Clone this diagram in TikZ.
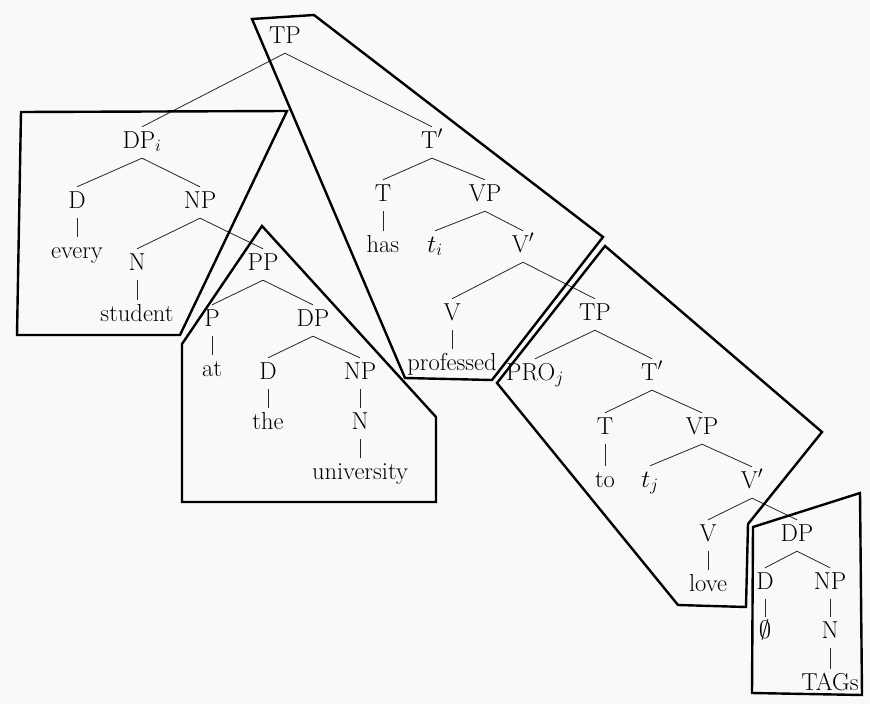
\documentclass[tikz,border=0pt]{standalone}
\definecolor{bg}{RGB}{249,249,249}
\begin{document}
\begin{tikzpicture}[x=1pt,y=-1pt,
  lab/.style={anchor=base,inner sep=0pt,text height=21pt,text depth=10pt,font=\fontsize{24.5}{29}\selectfont},
  edge/.style={line width=0.8pt,draw=black!85},
  box/.style={line width=2.4pt,line join=miter}]
\fill[bg] (0,0) rectangle (870,704);
\useasboundingbox (0,0) rectangle (870,704);
% nodes
\node[lab] (TP) at (285,43) {TP};
\node[lab] (DPi) at (142,148) {DP$_i$};
\node[lab] (Tb1) at (432,148) {T$'$};
\node[lab] (D1) at (77,208) {D};
\node[lab] (NP1) at (200,208) {NP};
\node[lab] (every) at (77,258) {every};
\node[lab] (N1) at (137,270) {N};
\node[lab] (PP) at (263,270) {PP};
\node[lab] (student) at (137,321) {student};
\node[lab] (P) at (212,326) {P};
\node[lab] (DP2) at (313,326) {DP};
\node[lab] (at) at (212,376) {at};
\node[lab] (D2) at (268,379) {D};
\node[lab] (NP2) at (360,379) {NP};
\node[lab] (the) at (268,429) {the};
\node[lab] (N2) at (360,429) {N};
\node[lab] (univ) at (360,479) {university};
\node[lab] (T1) at (383,201) {T};
\node[lab] (VP1) at (485,201) {VP};
\node[lab] (has) at (383,252) {has};
\node[lab] (ti) at (435,252) {$t_i$};
\node[lab] (Vb1) at (523,252) {V$'$};
\node[lab] (V1) at (452,320) {V};
\node[lab] (TP2) at (595,320) {TP};
\node[lab] (prof) at (452,370) {professed};
\node[lab] (PRO) at (535,380) {PRO$_j$};
\node[lab] (Tb2) at (652,380) {T$'$};
\node[lab] (T2) at (605,434) {T};
\node[lab] (VP2) at (702,434) {VP};
\node[lab] (to) at (605,487) {to};
\node[lab] (tj) at (650,487) {$t_j$};
\node[lab] (Vb2) at (752,488) {V$'$};
\node[lab] (V2) at (708,541) {V};
\node[lab] (DP3) at (797,541) {DP};
\node[lab] (love) at (708,591) {love};
\node[lab] (D3) at (765,589) {D};
\node[lab] (NP3) at (830,589) {NP};
\node[lab] (empty) at (765,638) {$\emptyset$};
\node[lab] (N3) at (830,638) {N};
\node[lab] (TAGs) at (830,690) {TAGs};
% edges
\foreach \a/\b in {TP/DPi,TP/Tb1,DPi/D1,DPi/NP1,D1/every,NP1/N1,NP1/PP,N1/student,
  PP/P,PP/DP2,P/at,DP2/D2,DP2/NP2,D2/the,NP2/N2,N2/univ,
  Tb1/T1,Tb1/VP1,T1/has,VP1/ti,VP1/Vb1,Vb1/V1,Vb1/TP2,V1/prof,
  TP2/PRO,TP2/Tb2,Tb2/T2,Tb2/VP2,T2/to,VP2/tj,VP2/Vb2,Vb2/V2,Vb2/DP3,V2/love,
  DP3/D3,DP3/NP3,D3/empty,NP3/N3,N3/TAGs}
  \draw[edge] (\a.south) -- (\b.north);
% boxes
\draw[box] (252,19) -- (314,15) -- (603,237) -- (492,380) -- (405,378) -- cycle;
\draw[box] (21,112) -- (287,111) -- (180,335) -- (17,335) -- cycle;
\draw[box] (262,226) -- (436,417) -- (436,502) -- (182,502) -- (182,344) -- cycle;
\draw[box] (605,246) -- (822,432) -- (748,524) -- (746,607) -- (678,605) -- (497,383) -- cycle;
\draw[box] (753,527) -- (860,493) -- (862,695) -- (752,693) -- cycle;
\end{tikzpicture}
\end{document}
